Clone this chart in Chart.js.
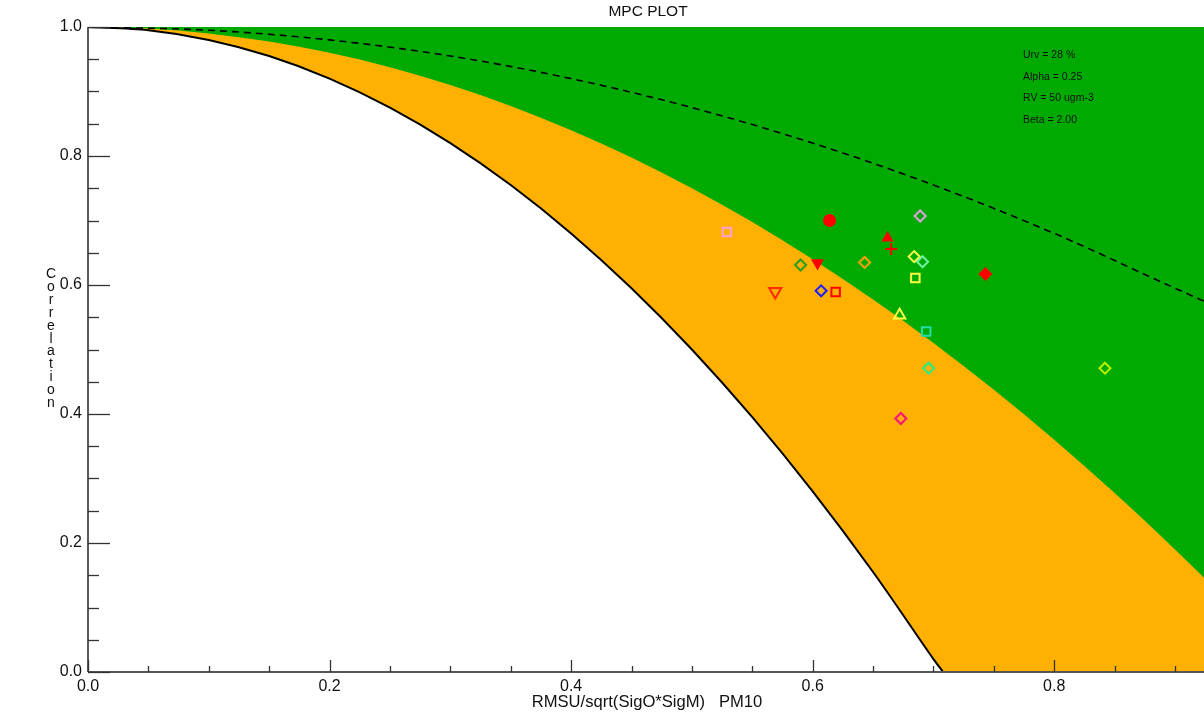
<!DOCTYPE html>
<html>
<head>
<meta charset="utf-8">
<script src="https://cdn.jsdelivr.net/npm/chart.js@4/dist/chart.umd.min.js"></script>
<style>
  html, body { margin: 0; padding: 0; background: #ffffff; overflow: hidden; }
  #wrap { width: 1204px; height: 723px; position: relative; }
  canvas { display: block; }
</style>
</head>
<body>
<div id="wrap"><canvas id="c" width="1204" height="723"></canvas></div>
<script>
// ---- chart texts ----
const chartTitle = "MPC PLOT";
const xAxisTitle = "RMSU/sqrt(SigO*SigM)   PM10";
const yAxisTitle = "Correlation";
const infoLines = ["Urv = 28 %", "Alpha = 0.25", "RV = 50 ugm-3", "Beta = 2.00"];

// ---- tick values ----
const xTickValues = [0.0, 0.2, 0.4, 0.6, 0.8];
const yTickValues = [0.0, 0.2, 0.4, 0.6, 0.8, 1.0];
const xMinorTicks = [0.05, 0.1, 0.15, 0.25, 0.3, 0.35, 0.45, 0.5, 0.55, 0.65, 0.7, 0.75, 0.85, 0.9];
const yMinorTicks = [0.05, 0.1, 0.15, 0.25, 0.3, 0.35, 0.45, 0.5, 0.55, 0.65, 0.7, 0.75, 0.85, 0.9, 0.95];

// ---- boundary curves ----
// solid black curve (white / orange limit)
const blackX = [0, 0.05, 0.1, 0.15, 0.2, 0.25, 0.3, 0.35, 0.4, 0.45, 0.5, 0.55, 0.6, 0.65, 0.7, 0.708];
const blackR = [1, 0.995, 0.98, 0.955, 0.92, 0.875, 0.82, 0.755, 0.68, 0.595, 0.5, 0.395, 0.28, 0.155, 0.02, 0];
// orange / green limit
const greenX = [0, 0.05, 0.1, 0.15, 0.2, 0.25, 0.3, 0.35, 0.4, 0.45, 0.5, 0.55, 0.6, 0.65, 0.7, 0.75, 0.8, 0.85, 0.9, 0.924];
const greenR = [1, 0.9975, 0.99, 0.9775, 0.96, 0.9375, 0.91, 0.8775, 0.84, 0.7975, 0.75, 0.6975, 0.64, 0.5775, 0.51, 0.4375, 0.36, 0.2775, 0.19, 0.146];
// dashed curve
const dashX = [0, 0.1, 0.2, 0.3, 0.4, 0.5, 0.6, 0.7, 0.8, 0.9, 0.924];
const dashR = [1, 0.995, 0.98, 0.955, 0.92, 0.875, 0.82, 0.755, 0.68, 0.595, 0.575];

// ---- station points ----
const pointX = [0.529, 0.614, 0.689, 0.662, 0.665, 0.684, 0.691, 0.643, 0.590, 0.604, 0.743, 0.685, 0.569, 0.607, 0.619, 0.672, 0.694, 0.696, 0.673, 0.842];
const pointR = [0.682, 0.700, 0.707, 0.673, 0.656, 0.644, 0.636, 0.635, 0.631, 0.634, 0.617, 0.611, 0.590, 0.591, 0.589, 0.553, 0.528, 0.471, 0.393, 0.471];

// ---- marker styles (presentation only) ----
const markerShape = ['rect','circle','rectRot','triangle','cross','rectRot','rectRot','rectRot','rectRot','triangle','rectRot','rect','triangle','rectRot','rect','triangle','rect','rectRot','rectRot','rectRot'];
const markerRot   = [0,0,0,0,0,0,0,0,0,180,0,0,180,0,0,0,0,0,0,0];
const markerColor = ['#FFA0D8','#FF0000','#DDA0E0','#FF0000','#FF0000','#FFFF44','#70F0A0','#FFA000','#2E9E1E','#FF0000','#FF0000','#FFFF44','#FF2A00','#1E1EFF','#FF0000','#FFFF44','#22DDAA','#22EE88','#FF1080','#B8F000'];
const markerFilled = [false,true,false,true,false,false,false,false,false,true,true,false,false,false,false,false,false,false,false,false];
const markerSize  = [6,5.5,5.5,5,6,5.5,5.5,5.5,5.5,5.5,5.5,6,7,5.5,6,6.5,6,5.5,5.5,5.5];

const COL_GREEN = '#00AA00';
const COL_ORANGE = '#FFB000';
const FONT = '"Liberation Sans", Arial, Helvetica, sans-serif';

const toXY = (xs, ys) => xs.map((x, i) => ({x: x, y: ys[i]}));

const decorPlugin = {
  id: 'decor',
  beforeDatasetsDraw(chart) {
    const {ctx, chartArea: a} = chart;
    ctx.save();
    ctx.fillStyle = COL_GREEN;
    ctx.fillRect(a.left, a.top, a.right - a.left, a.bottom - a.top);
    ctx.restore();
  },
  afterDatasetsDraw(chart) {
    const {ctx, chartArea: a, scales} = chart;
    const xs = scales.x, ys = scales.y;
    ctx.save();
    // axes
    ctx.strokeStyle = '#555555';
    ctx.lineWidth = 2;
    ctx.beginPath();
    ctx.moveTo(a.left, a.bottom); ctx.lineTo(a.right, a.bottom);
    ctx.stroke();
    ctx.strokeStyle = '#222222';
    ctx.lineWidth = 1.5;
    ctx.beginPath();
    ctx.moveTo(a.left, a.top); ctx.lineTo(a.left, a.bottom);
    ctx.stroke();
    // y ticks (inward)
    ctx.strokeStyle = '#333333';
    ctx.lineWidth = 1.3;
    yTickValues.forEach(v => {
      const py = Math.round(ys.getPixelForValue(v)) + 0.5;
      ctx.beginPath(); ctx.moveTo(a.left, py); ctx.lineTo(a.left + 22, py); ctx.stroke();
    });
    yMinorTicks.forEach(v => {
      const py = Math.round(ys.getPixelForValue(v)) + 0.5;
      ctx.beginPath(); ctx.moveTo(a.left, py); ctx.lineTo(a.left + 11, py); ctx.stroke();
    });
    // x ticks (inward)
    xTickValues.forEach(v => {
      const px = Math.round(xs.getPixelForValue(v)) + 0.5;
      ctx.beginPath(); ctx.moveTo(px, a.bottom); ctx.lineTo(px, a.bottom - 12); ctx.stroke();
    });
    xMinorTicks.forEach(v => {
      const px = Math.round(xs.getPixelForValue(v)) + 0.5;
      ctx.beginPath(); ctx.moveTo(px, a.bottom); ctx.lineTo(px, a.bottom - 6); ctx.stroke();
    });
    ctx.restore();
  },
  afterDraw(chart) {
    const {ctx, chartArea: a} = chart;
    ctx.save();
    ctx.fillStyle = '#111111';
    // title
    ctx.font = '15.5px ' + FONT;
    ctx.textAlign = 'center';
    ctx.textBaseline = 'middle';
    ctx.fillText(chartTitle, 648, 12);
    // x axis title
    ctx.font = '16.6px ' + FONT;
    ctx.fillText(xAxisTitle, 647, 702);
    // y axis title, stacked letters
    ctx.font = '14px ' + FONT;
    ctx.textBaseline = 'alphabetic';
    const letters = yAxisTitle.split('');
    letters.forEach((ch, i) => {
      ctx.fillText(ch, 51, 278 + i * 12.9);
    });
    // info lines
    ctx.font = '10.5px ' + FONT;
    ctx.textAlign = 'left';
    ctx.textBaseline = 'middle';
    infoLines.forEach((t, i) => {
      ctx.fillText(t, 1023, 55 + i * 21.7);
    });
    ctx.restore();
  }
};

new Chart(document.getElementById('c'), {
  type: 'scatter',
  data: {
    datasets: [
      {
        label: 'points',
        data: toXY(pointX, pointR),
        pointStyle: markerShape,
        rotation: markerRot,
        pointRadius: markerSize,
        pointBorderWidth: 2,
        pointBorderColor: markerColor,
        pointBackgroundColor: markerColor.map((c, i) => markerFilled[i] ? c : 'rgba(0,0,0,0)'),
        showLine: false,
        order: 0
      },
      {
        label: 'dashed',
        data: toXY(dashX, dashR),
        showLine: true,
        borderColor: '#000000',
        borderWidth: 1.6,
        borderDash: [7, 5],
        pointRadius: 0,
        fill: false,
        cubicInterpolationMode: 'monotone',
        order: 1
      },
      {
        label: 'black',
        data: toXY(blackX, blackR),
        showLine: true,
        borderColor: '#000000',
        borderWidth: 2,
        pointRadius: 0,
        fill: 'start',
        backgroundColor: '#FFFFFF',
        tension: 0.3,
        order: 2
      },
      {
        label: 'orange',
        data: toXY(greenX, greenR),
        showLine: true,
        borderWidth: 0,
        borderColor: COL_ORANGE,
        pointRadius: 0,
        fill: 'start',
        backgroundColor: COL_ORANGE,
        cubicInterpolationMode: 'monotone',
        order: 3
      }
    ]
  },
  options: {
    responsive: false,
    animation: false,
    events: [],
    layout: { autoPadding: false, padding: { left: 0, right: 0, top: 27, bottom: 0 } },
    plugins: { legend: { display: false }, tooltip: { enabled: false }, title: { display: false } },
    scales: {
      x: {
        type: 'linear',
        min: 0, max: 0.924,
        grid: { display: false, drawTicks: false },
        border: { display: false },
        afterBuildTicks: s => { s.ticks = xTickValues.map(v => ({value: v})); },
        afterFit: s => { s.height = 51; s.paddingLeft = 0; s.paddingRight = 0; },
        ticks: {
          padding: 5,
          autoSkip: false,
          maxRotation: 0,
          color: '#111111',
          font: { family: FONT, size: 16 },
          callback: v => Number(v).toFixed(1)
        }
      },
      y: {
        type: 'linear',
        min: 0, max: 1,
        grid: { display: false, drawTicks: false },
        border: { display: false },
        afterBuildTicks: s => { s.ticks = yTickValues.map(v => ({value: v})); },
        afterFit: s => { s.width = 88; s.paddingTop = 0; s.paddingBottom = 0; },
        ticks: {
          padding: 6,
          autoSkip: false,
          color: '#111111',
          font: { family: FONT, size: 16 },
          callback: v => Number(v).toFixed(1)
        }
      }
    }
  },
  plugins: [decorPlugin]
});
</script>
</body>
</html>
